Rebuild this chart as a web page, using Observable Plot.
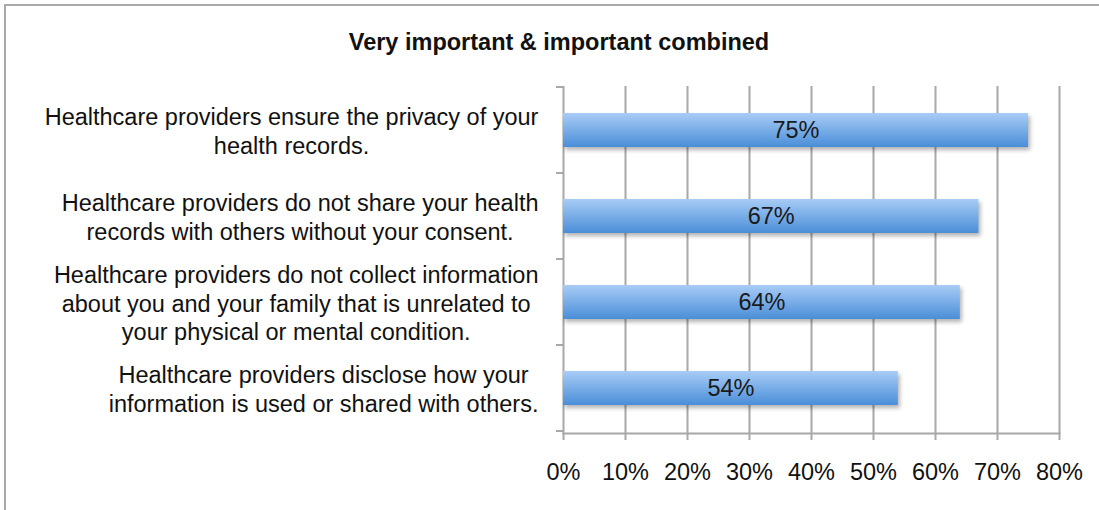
<!DOCTYPE html>
<html>
<head>
<meta charset="utf-8">
<script src="https://cdn.jsdelivr.net/npm/d3@7"></script>
<script src="https://cdn.jsdelivr.net/npm/@observablehq/plot@0.6"></script>
<style>
  html, body { margin: 0; padding: 0; background: #fff; }
  #wrap { position: relative; width: 1099px; height: 510px; overflow: hidden; font-family: "Liberation Sans", Arial, sans-serif; }
  #frame { position: absolute; left: 4px; top: 4px; width: 1200px; height: 700px; border: 2px solid #a9a9a9; box-sizing: border-box; }
  #subtitle { position: absolute; left: 0; width: 1118px; top: 29px; text-align: center; font-weight: bold; font-size: 23.5px; color: #111; }
  #chart { position: absolute; left: 0; top: 0; }
</style>
</head>
<body>
<div id="wrap">
  <div id="frame"></div>
  <div id="subtitle">Very important &amp; important combined</div>
  <div id="chart"></div>
</div>
<script>
const categories = [
  "Healthcare providers ensure the privacy of your\nhealth records.",
  "Healthcare providers do not share your health\nrecords with others without your consent.",
  "Healthcare providers do not collect information\nabout you and your family that is unrelated to\nyour physical or mental condition.",
  "Healthcare providers disclose how your\ninformation is used or shared with others."
];
const values = [75, 67, 64, 54];
const valueLabels = ["75%", "67%", "64%", "54%"];
const xTicks = [0, 10, 20, 30, 40, 50, 60, 70, 80];

const data = categories.map((c, i) => ({category: c, value: values[i], label: valueLabels[i]}));

const bandTicks = (index, scales, values, dimensions) => {
  const y = scales.y;
  const g = d3.create("svg:g");
  const ys = categories.map(c => y(c));
  const step = ys[1] - ys[0];
  const bw = y.bandwidth ? y.bandwidth() : 0;
  const x0 = dimensions.marginLeft;
  for (let i = 0; i <= categories.length; i++) {
    const yy = (i < categories.length ? ys[i] : ys[i - 1] + step) - (step - bw) / 2;
    g.append("line").attr("x1", x0 - 7).attr("x2", x0).attr("y1", yy).attr("y2", yy)
      .attr("stroke", "#a8a8a8").attr("stroke-width", 2);
  }
  return g.node();
};

const plot = Plot.plot({
  width: 1099,
  height: 510,
  marginLeft: 563,
  marginRight: 40,
  marginTop: 86,
  marginBottom: 77,
  style: {fontFamily: "'Liberation Sans', Arial, sans-serif", fontSize: "23.5px", color: "#111", background: "transparent"},
  x: {domain: [0, 80]},
  y: {domain: categories, paddingInner: 0.6, paddingOuter: 0.3},
  marks: [
    Plot.ruleX(xTicks, {stroke: "#a8a8a8", strokeWidth: 2}),
    Plot.barX(data, {y: "category", x: "value", fill: "url(#barGrad)"}),
    Plot.text(data, {y: "category", x: d => d.value / 2, text: "label", fontSize: 23.5, fill: "#1a1a1a"}),
    Plot.frame({anchor: "bottom", stroke: "#a8a8a8", strokeWidth: 2}),
    Plot.axisX({ticks: xTicks, tickFormat: d => d + "%", tickSize: 7, tickPadding: 23, stroke: "#a8a8a8", strokeWidth: 2, fontSize: 23.5, label: null}),
    Plot.axisY({tickSize: 0, tickPadding: 25, fontSize: 23.5, lineHeight: 1.2, label: null, textAnchor: "end"}),
    bandTicks
  ]
});

const svg = d3.select(plot);
const defs = svg.insert("defs", ":first-child");
const grad = defs.append("linearGradient").attr("id", "barGrad").attr("x1", 0).attr("x2", 0).attr("y1", 0).attr("y2", 1);
grad.append("stop").attr("offset", "0%").attr("stop-color", "#a8ccf6");
grad.append("stop").attr("offset", "100%").attr("stop-color", "#4a8ed8");
svg.selectAll("rect").filter(function() { return this.getAttribute("fill") === "url(#barGrad)" || (this.parentNode && this.parentNode.getAttribute("fill") === "url(#barGrad)"); })
  .style("filter", "drop-shadow(2px 3px 2px rgba(0,0,0,0.3))");
document.getElementById("chart").appendChild(plot);

// Center-align the lines of each multi-line category label, keeping the block's right edge in place
svg.selectAll("g[aria-label='y-axis tick label'] text").each(function() {
  const w = this.getBBox().width;
  const t = d3.select(this);
  t.attr("text-anchor", "middle");
  const tspans = t.selectAll("tspan");
  if (tspans.empty()) {
    t.attr("x", -w / 2);
  } else {
    tspans.attr("x", -w / 2);
  }
});
</script>
</body>
</html>
